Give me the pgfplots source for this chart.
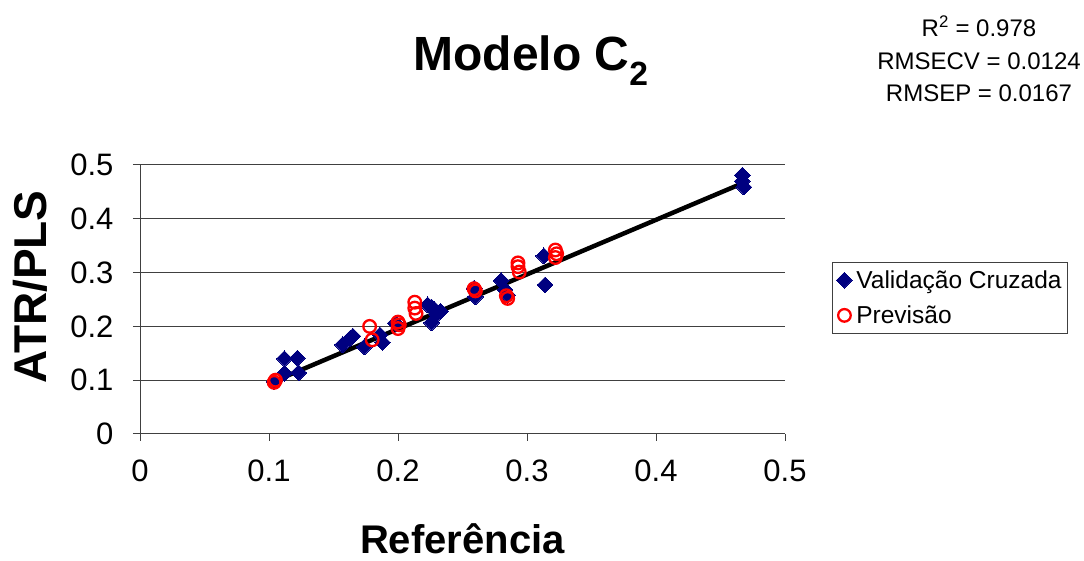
\documentclass[border=0pt]{standalone}
\usepackage{pgfplots}
\pgfplotsset{compat=1.18}
\usepackage{fontspec}
\setmainfont{Liberation Sans}
\definecolor{navyb}{RGB}{0,0,128}
\begin{document}
\begin{tikzpicture}[x=1pt,y=1pt]
\path[use as bounding box] (0,0) rectangle (1084,561);
\begin{axis}[
  at={(140pt,127pt)}, anchor=south west,
  scale only axis, width=645pt, height=269pt,
  xmin=0, xmax=0.5, ymin=0, ymax=0.5,
  xtick={0,0.1,0.2,0.3,0.4,0.5},
  ytick={0,0.1,0.2,0.3,0.4,0.5},
  axis lines*=left,
  axis line style={draw=black!75, line width=1pt},
  tick align=outside, major tick length=7pt,
  tick style={draw=black!75, line width=1pt},
  ymajorgrids, grid style={draw=black!75, line width=1pt},
  ticklabel style={font=\fontsize{31}{36}\selectfont},
  /pgf/number format/assume math mode=true,
  /pgf/number format/fixed,
  xticklabel style={yshift=-15pt},
  yticklabel style={xshift=-16pt},
  xlabel={\textbf{Referência}},
  ylabel={\textbf{ATR/PLS}},
  xlabel style={font=\fontsize{40}{46}\selectfont, inner sep=0pt, at={(axis description cs:0.5,-0.443)}, anchor=base},
  ylabel style={font=\fontsize{46}{52}\selectfont, at={(axis description cs:-0.1705,0.546)}, anchor=center},
  clip=false,
  legend style={at={(axis description cs:1.0729,0.6394)}, anchor=north west,
    draw=black!75, line width=1pt, font=\fontsize{24.5}{30}\selectfont,
    inner xsep=4pt, inner ysep=6pt, row sep=12pt, cells={anchor=west},
    /tikz/every odd column/.append style={column sep=2pt}},
  legend image code/.code={\draw[#1] plot coordinates {(0pt,0pt)};},
]
\addplot[only marks, mark=square*, mark size=5.6pt, mark options={rotate=45, fill=navyb, draw=navyb, line width=0pt}] coordinates {
(0.104,0.098) (0.112,0.140) (0.122,0.141) (0.112,0.113) (0.123,0.114)
(0.157,0.166) (0.163,0.178) (0.165,0.182) (0.174,0.162) (0.186,0.184)
(0.188,0.170) (0.198,0.206) (0.223,0.240) (0.226,0.207) (0.228,0.232)
(0.230,0.222) (0.233,0.228) (0.226,0.236) (0.259,0.271) (0.260,0.255)
(0.280,0.285) (0.283,0.268) (0.285,0.258) (0.313,0.331) (0.314,0.277)
(0.467,0.481) (0.467,0.470) (0.468,0.459)
};
\addlegendentry{Validação Cruzada}
\addplot[only marks, mark=o, mark size=6.3pt, mark options={draw=red, line width=2.3pt}] coordinates {
(0.104,0.096) (0.105,0.100) (0.178,0.200) (0.180,0.175) (0.200,0.196)
(0.201,0.203) (0.200,0.208) (0.213,0.245) (0.213,0.234) (0.214,0.224)
(0.259,0.270) (0.260,0.266) (0.284,0.257) (0.285,0.252) (0.293,0.318)
(0.293,0.311) (0.294,0.301) (0.322,0.342) (0.323,0.335) (0.322,0.328)
};
\addlegendentry{Previsão}
\addplot[black, line width=4.5pt, forget plot] coordinates {(0.104,0.098) (0.468,0.467)};
\end{axis}
\node[font=\fontsize{48}{54}\selectfont\bfseries] at (531,500) {Modelo C\textsubscript{2}};
\node[font=\fontsize{24}{32.5}\selectfont, align=center] at (979,502) {R\textsuperscript{2} = 0.978\\RMSECV = 0.0124\\RMSEP = 0.0167};
\end{tikzpicture}
\end{document}
